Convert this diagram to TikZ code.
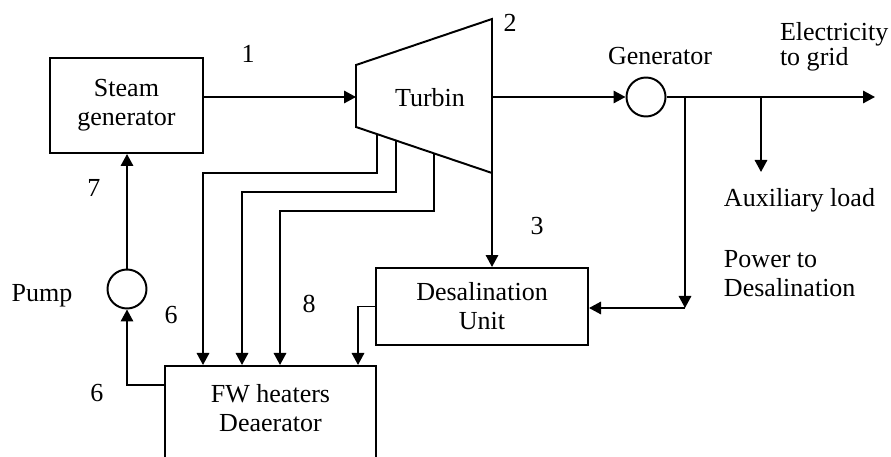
\documentclass[tikz,border=0pt]{standalone}
\usepackage{fontspec}
\setmainfont{Liberation Serif}
\usetikzlibrary{
    arrows.meta,
    calc,
    positioning
}

\begin{document}
\begin{tikzpicture}[x=0.025cm, y=-0.025cm,
    line width=1.4pt,
    every node/.style={font=\fontsize{18.5}{20.6}\selectfont},
    unit/.style={draw, rectangle, align=center, inner sep=0pt},
    wheel/.style={draw, circle, minimum size=0.975cm, inner sep=0pt},
    lbl/.style={inner sep=0pt, align=left},
    flow/.style={-{Triangle[length=0.3cm,width=0.31cm]}}
]

\clip (0,0) rectangle (891,457);

% Steam generator
\node[unit, minimum width=3.825cm, minimum height=2.375cm] (sg) at (126.5,105.5) {Steam\\generator};

% Turbine
\coordinate (ttl) at (356,65);
\coordinate (ttr) at (492,19);
\coordinate (tbr) at (492,173);
\coordinate (tbl) at (356,127);
\draw (ttl) -- (ttr) -- (tbr) -- (tbl) -- cycle;
\node (turb) at (430,98) {Turbin};
\coordinate (tin) at (356,97);
\coordinate (tout) at (492,97);

% Generator and grid
\node[wheel] (gen) at (646,97) {};
\coordinate (jdes) at (685,97);
\coordinate (jaux) at (761,97);
\coordinate (grid) at (875,97);
\coordinate (auxend) at (761,172);
\coordinate (jbend) at (685,308);

% Desalination unit
\node[unit, minimum width=5.3cm, minimum height=1.925cm] (desal) at (482,306.5) {Desalination\\Unit};

% FW heaters
\node[unit, minimum width=5.275cm, minimum height=3cm, anchor=north] (fw) at (270.5,365) {};
\node[lbl, align=center] (fwtext) at (270.5,408) {FW heaters\\Deaerator};

% Pump
\node[wheel] (pump) at (127,289) {};

% Main loop
\draw[flow] (sg.east |- tin) -- (tin);
\draw[flow] (tout) -- (gen.west);
\draw[flow] (gen.east) -- (grid);
\draw[flow] (jaux) -- (auxend);
\draw[flow] (jdes) -- (jbend);
\draw[flow] (jbend) -- (jbend -| desal.east);
\draw[flow] ([yshift=-0.5cm]fw.north west) -| (pump.south);
\draw[flow] (pump.north) -- (pump.north |- sg.south);

% Extractions
\coordinate (e1) at ($(tbl)!0.154!(tbr)$);
\coordinate (e2) at ($(tbl)!0.294!(tbr)$);
\coordinate (e3) at ($(tbl)!0.574!(tbr)$);
\coordinate (k1) at (203,173);
\coordinate (k2) at (242,192);
\coordinate (k3) at (280,211);
\draw[flow] (e1) |- (k1) -- (k1 |- fw.north);
\draw[flow] (e2) |- (k2) -- (k2 |- fw.north);
\draw[flow] (e3) |- (k3) -- (k3 |- fw.north);
\draw[flow] (tbr) -- (tbr |- desal.north);
\draw[flow] (desal.west) -| ([xshift=-0.475cm]fw.north east);

% Labels
\node[lbl] (n1) at (248,54) {1};
\node[lbl] (n2) at (510,23) {2};
\node[lbl] (n3) at (537,226) {3};
\node[lbl] (n6a) at (171,315) {6};
\node[lbl] (n6b) at (97,393) {6};
\node[lbl] (n7) at (94,188) {7};
\node[lbl] (n8) at (309,304) {8};
\node[lbl] (gentext) at (660,56) {Generator};
\node[lbl, anchor=west, font=\fontsize{18.5}{15.6}\selectfont] (elec) at (779,47) {Electricity\\to grid};
\node[lbl, anchor=west] (aux) at (723,200) {Auxiliary load};
\node[lbl, anchor=west] (power) at (723,273.5) {Power to\\Desalination};
\node[lbl] (pumptext) at (42,296) {Pump};

\end{tikzpicture}
\end{document}
